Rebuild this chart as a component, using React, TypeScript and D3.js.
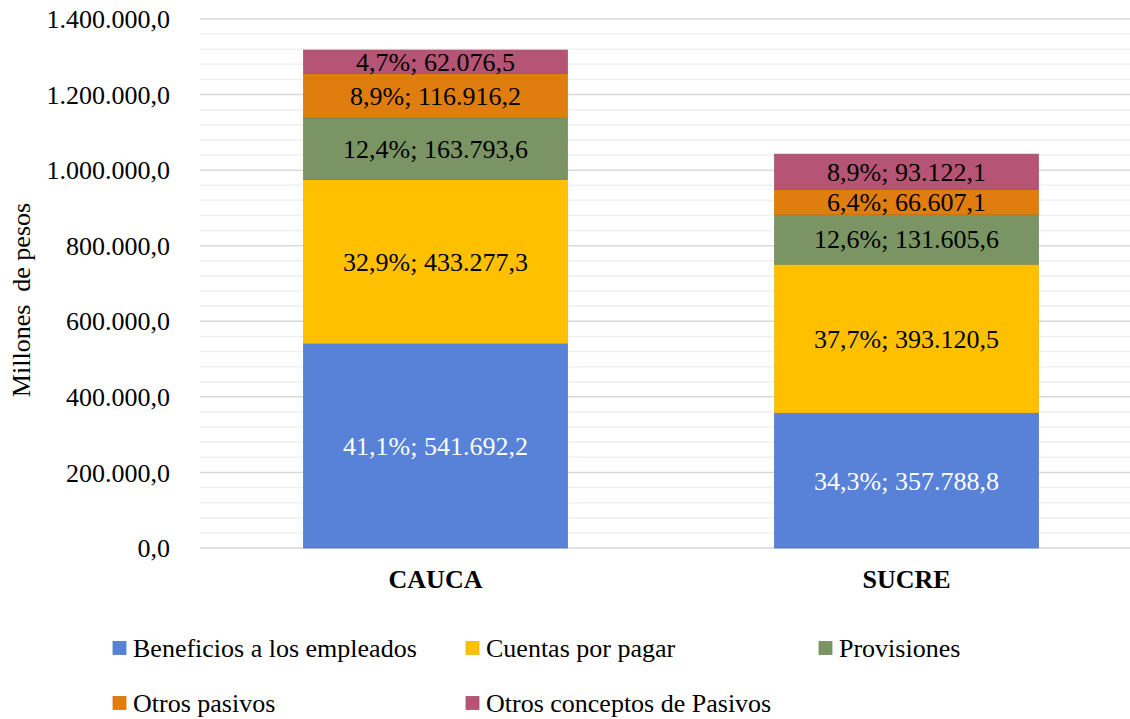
import React from "react";
import * as d3 from "d3";

const categories = ["CAUCA", "SUCRE"];
const seriesNames = [
  "Beneficios a los empleados",
  "Cuentas por pagar",
  "Provisiones",
  "Otros pasivos",
  "Otros conceptos de Pasivos",
];
const beneficios = [541692.2, 357788.8];
const cuentas = [433277.3, 393120.5];
const provisiones = [163793.6, 131605.6];
const otrosPasivos = [116916.2, 66607.1];
const otrosConceptos = [62076.5, 93122.1];
const seriesColors = ["#5881D8", "#FFC000", "#7A9463", "#DF7D0F", "#B55474"];
const seriesStroke = ["#4A72C8", "#F0B400", "#6E8758", "#D07008", "#A64A69"];
const labelColors = ["#FFFFFF", "#000000", "#000000", "#000000", "#000000"];
const yTicks = [0, 200000, 400000, 600000, 800000, 1000000, 1200000, 1400000];

const W = 1130;
const H = 719;
const FONT = "Liberation Serif, DejaVu Serif, serif";
const FS = 26;

const loc = d3.formatLocale({
  decimal: ",",
  thousands: ".",
  grouping: [3],
  currency: ["$", ""],
});
const fmtVal = loc.format(",.1f");
const fmtPct = loc.format(".1%");

export default function App() {
  const seriesValues = [beneficios, cuentas, provisiones, otrosPasivos, otrosConceptos];
  const table = categories.map((c, i) => {
    const row: any = { cat: c };
    seriesNames.forEach((s, j) => (row[s] = seriesValues[j][i]));
    return row;
  });
  const stacked = d3.stack<any>().keys(seriesNames)(table);
  const totals = categories.map((_, i) => d3.sum(seriesValues, (v) => v[i]));

  const y = d3.scaleLinear().domain([0, 1400000]).range([548, 19]);
  const x = d3.scalePoint<string>().domain(categories).range([200, 1142]).padding(0.5);
  const step = x.step();
  const bw = step * 0.56;

  const minorTicks = d3.range(0, 1400001, 40000).filter((v) => v % 200000 !== 0);

  const legendPos = [
    { x: 113, y: 648 },
    { x: 466, y: 648 },
    { x: 819, y: 648 },
    { x: 113, y: 703 },
    { x: 466, y: 703 },
  ];

  const ts = { fontFamily: FONT };

  return (
    <svg
      width={W}
      height={H}
      style={{ position: "absolute", left: 0, top: 0, background: "#fff", fontFamily: FONT }}
    >
      {minorTicks.map((t) => (
        <line key={"m" + t} x1={200} x2={1142} y1={y(t)} y2={y(t)} stroke="#F0F0F0" strokeWidth={1.5} />
      ))}
      {yTicks.map((t) => (
        <line key={"g" + t} x1={200} x2={1142} y1={y(t)} y2={y(t)} stroke="#D9D9D9" strokeWidth={1.5} />
      ))}
      {yTicks.map((t) => (
        <text key={"t" + t} x={170} y={y(t)} dy="0.35em" textAnchor="end" fontSize={FS} fill="#000" style={ts}>
          {fmtVal(t)}
        </text>
      ))}
      <text
        transform={`translate(30,300) rotate(-90)`}
        textAnchor="middle"
        fontSize={FS}
        fill="#000"
        style={{ ...ts, whiteSpace: "pre" }}
      >
        {"Millones  de pesos"}
      </text>

      {stacked.map((s, j) =>
        s.map((d, i) => {
          const cx = x(categories[i])!;
          const y0 = y(d[0]);
          const y1 = y(d[1]);
          return (
            <rect
              key={`r${j}-${i}`}
              x={cx - bw / 2}
              y={y1}
              width={bw}
              height={y0 - y1}
              fill={seriesColors[j]}
              stroke={seriesStroke[j]}
              strokeWidth={0.75}
            />
          );
        })
      )}
      {stacked.map((s, j) =>
        s.map((d, i) => {
          const cx = x(categories[i])!;
          const v = d[1] - d[0];
          return (
            <text
              key={`l${j}-${i}`}
              x={cx}
              y={(y(d[0]) + y(d[1])) / 2}
              dy="0.35em"
              textAnchor="middle"
              fontSize={FS}
              fill={labelColors[j]}
              style={ts}
            >
              {`${fmtPct(v / totals[i])}; ${fmtVal(v)}`}
            </text>
          );
        })
      )}

      {categories.map((c) => (
        <text key={c} x={x(c)!} y={588} textAnchor="middle" fontSize={FS} fontWeight="bold" fill="#000" style={ts}>
          {c}
        </text>
      ))}

      {seriesNames.map((s, j) => (
        <g key={s}>
          <rect
            x={legendPos[j].x}
            y={legendPos[j].y - 6.5}
            width={13}
            height={13}
            fill={seriesColors[j]}
            stroke={seriesStroke[j]}
            strokeWidth={0.75}
          />
          <text x={legendPos[j].x + 20} y={legendPos[j].y} dy="0.35em" fontSize={FS} fill="#000" style={ts}>
            {s}
          </text>
        </g>
      ))}
    </svg>
  );
}
